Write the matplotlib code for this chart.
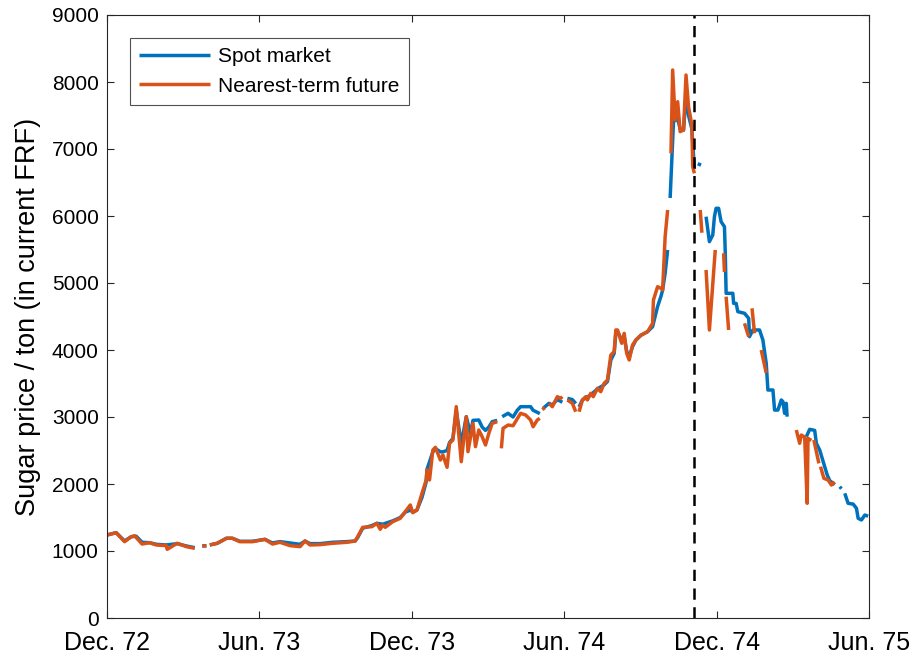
import numpy as np
import matplotlib
matplotlib.use("Agg")
import matplotlib.pyplot as plt

nan = np.nan

# days since 1 Dec 1972
future_day = [0, 11, 21, 29, 33, 42, 51, 59, 71, 72, 84, 95, 105, 108,
              114, 119, 121,
              123, 132, 143, 150, 159, 174, 189, 198, 207, 219, 231, 237, 243, 255, 270, 287, 297,
              300, 306, 317, 323, 327, 330, 333, 342, 351, 357, 363, 366, 371, 377, 382, 383, 386,
              390, 393, 399, 402, 407, 410, 414, 418, 424, 430, 432, 438, 441, 445, 449, 453, 457,
              461, 467, 470,
              472, 474, 480, 486, 495, 501, 507, 510, 515, 518, 520,
              521, 524, 526,
              529, 533, 539, 543, 545, 548,
              551, 557, 561, 563,
              565, 569, 573, 575, 579, 582, 587, 591, 595, 599, 603, 607, 609, 611, 616, 619, 622,
              625, 629, 633, 639, 647, 653, 654, 659, 663, 665, 668, 671, 673,
              675, 677, 680, 683, 686, 690, 693, 696, 700, 701, 703, 706,
              710, 712, 714,
              717, 721, 728, 731,
              738, 739, 740,
              741, 744, 746,
              763, 768, 770,
              772, 775, 777,
              783, 789, 792,
              825, 829, 831, 835, 838, 839, 843, 845,
              846, 852, 853,
              854, 858, 863, 867, 871]
future_val = [1239, 1273, 1139, 1213, 1228, 1104, 1124, 1090, 1080, 1025, 1115, 1065, 1040, nan,
              1075, 1075, nan,
              1090, 1115, 1190, 1190, 1139, 1139, 1174, 1104, 1130, 1080, 1065, 1149, 1090, 1095, 1115, 1130, 1149,
              1213, 1353, 1363, 1413, 1324, 1388, 1353, 1438, 1488, 1587, 1687, 1572, 1612, 1861, 2060, 2209, 2060,
              2507, 2547, 2358, 2433, 2249, 2607, 2657, 3154, 2333, 3005, 2482, 2905, 2557, 2806, 2706, 2582, 2756,
              2905, 2930, nan,
              2532, 2830, 2880, 2870, 3055, 3030, 2955, 2855, 2955, 2980, nan,
              3110, 3140, nan,
              3204, 3154, 3303, 3279, 3303, nan,
              3254, 3204, 3079, nan,
              3079, 3254, 3303, 3254, 3354, 3303, 3428, 3378, 3503, 3552, 3925, 3975, 4299, 4299, 4100, 4249, 3950,
              3851, 4075, 4149, 4220, 4274, 4398, 4746, 4945, 4920, 4896, 5691, 6090, nan,
              6936, 8179, 7433, 7706, 7259, 7284, 8104, 7631, 7358, 6736, 6637, nan,
              6090, 5750, nan,
              5194, 4299, 5493, nan,
              5443, 5164, nan,
              4796, 4299, nan,
              4398, 4199, nan,
              4622, 4249, nan,
              4000, 3657, nan,
              2806, 2607, 2731, 2700, 1712, 2682, 2650, nan,
              2657, 2308, nan,
              2259, 2085, 2060, 1985, 2030]

spot_day = [0, 11, 21, 29, 35, 42, 51, 59, 71, 84, 95, 105, 108,
            114, 119, 121,
            123, 132, 143, 150, 159, 174, 189, 198, 207, 219, 231, 237, 243, 255, 270, 287, 297,
            300, 306, 317, 323, 330, 342, 351, 357, 363, 366, 371, 377, 382, 383, 390, 393, 399,
            402, 407, 410, 414, 418, 424, 430, 435, 438, 445, 449, 453, 457, 461, 467, 470,
            473, 480, 486, 491, 495, 507, 510, 515, 518, 520,
            522, 529, 533, 539, 545, 548,
            551, 557, 561, 563,
            565, 569, 579, 587, 595, 599, 603, 607, 609, 611, 616, 619, 622, 625, 629, 633, 639,
            647, 653, 656, 659, 663, 665, 668, 671, 673,
            674, 678, 683, 686, 690, 693, 696, 700, 703, 705,
            707, 711, 713,
            717, 721, 725, 727, 729, 732, 735, 739, 740, 741, 749, 750, 753, 755, 763, 768, 769,
            773, 781, 785, 789, 791, 797, 799, 803, 807, 809, 811, 813, 814, 817,
            837, 841, 847, 849, 853, 862, 865, 871, 873,
            877, 879, 881,
            883, 887, 893, 897, 899, 903, 907, 911]
spot_val = [1239, 1273, 1150, 1213, 1220, 1130, 1124, 1100, 1090, 1110, 1075, 1050, nan,
            1075, 1080, nan,
            1090, 1115, 1190, 1190, 1145, 1145, 1174, 1120, 1140, 1120, 1100, 1149, 1110, 1110, 1130, 1140, 1149,
            1200, 1340, 1380, 1413, 1400, 1450, 1500, 1580, 1610, 1580, 1612, 1800, 2030, 2220, 2480, 2530, 2480,
            2480, 2500, 2620, 2680, 3100, 2600, 3005, 2750, 2950, 2955, 2850, 2800, 2850, 2930, 2950, nan,
            3005, 3055, 3000, 3100, 3154, 3154, 3100, 3070, 3050, nan,
            3130, 3204, 3180, 3260, 3220, nan,
            3279, 3260, 3200, nan,
            3150, 3254, 3330, 3420, 3480, 3530, 3850, 3950, 4250, 4280, 4150, 4200, 3980, 3900, 4050, 4149, 4220,
            4274, 4348, 4500, 4650, 4800, 4896, 5145, 5493, nan,
            6269, 7408, 7450, 7300, 7280, 7800, 7500, 7300, 6700, nan,
            6780, 6760, nan,
            5990, 5617, 5716, 5990, 6115, 6115, 5915, 5840, 5443, 4846, 4846, 4696, 4696, 4572, 4548, 4473, 4199,
            4299, 4299, 4149, 3801, 3403, 3403, 3104, 3104, 3254, 3230, 3055, 3204, 3005, nan,
            2706, 2816, 2800, 2607, 2507, 2134, 2050, 1990, nan,
            1960, 1930, nan,
            1861, 1712, 1700, 1637, 1488, 1463, 1537, 1520]

tick_days = [0, 182, 365, 547, 730, 912]
tick_labels = ["Dec. 72", "Jun. 73", "Dec. 73", "Jun. 74", "Dec. 74", "Jun. 75"]
event_day = 703

blue = (0.0, 0.447, 0.741)
orange = (0.85, 0.325, 0.098)
axcol = (0.15, 0.15, 0.15)

plt.rcParams['font.family'] = ['Liberation Sans', 'DejaVu Sans']

fig = plt.figure(figsize=(9.13, 6.58), dpi=100)
ax = fig.add_axes([107 / 913, 1 - 618 / 658, (869 - 107) / 913, (618 - 15) / 658])

ax.plot(spot_day, spot_val, color=blue, lw=2.5, label="Spot market", solid_capstyle='butt')
ax.plot(future_day, future_val, color=orange, lw=2.5, label="Nearest-term future", solid_capstyle='butt')
ax.axvline(event_day, color='black', lw=1.8, dashes=(4.5, 3))

ax.set_xlim(0, 912)
ax.set_ylim(0, 9000)
ax.set_yticks(np.arange(0, 9001, 1000))
ax.set_xticks(tick_days)
ax.set_xticklabels(tick_labels)
ax.tick_params(direction='in', length=5, width=0.8, colors=axcol, labelcolor='black',
               top=True, right=True)
ax.tick_params(axis='y', labelsize=15, pad=6)
ax.tick_params(axis='x', labelsize=18, pad=9)
for s in ax.spines.values():
    s.set_color(axcol)
    s.set_linewidth(0.8)
ax.set_ylabel("Sugar price / ton (in current FRF)", fontsize=19.5, labelpad=8)

leg = ax.legend(loc='upper left', bbox_to_anchor=(0.03, 0.962), fontsize=15, frameon=True,
                fancybox=False, edgecolor=axcol, handlelength=3.4, handletextpad=0.4,
                borderpad=0.45, labelspacing=0.5, borderaxespad=0)
leg.get_frame().set_linewidth(0.8)

fig.savefig("out.png", dpi=100)
